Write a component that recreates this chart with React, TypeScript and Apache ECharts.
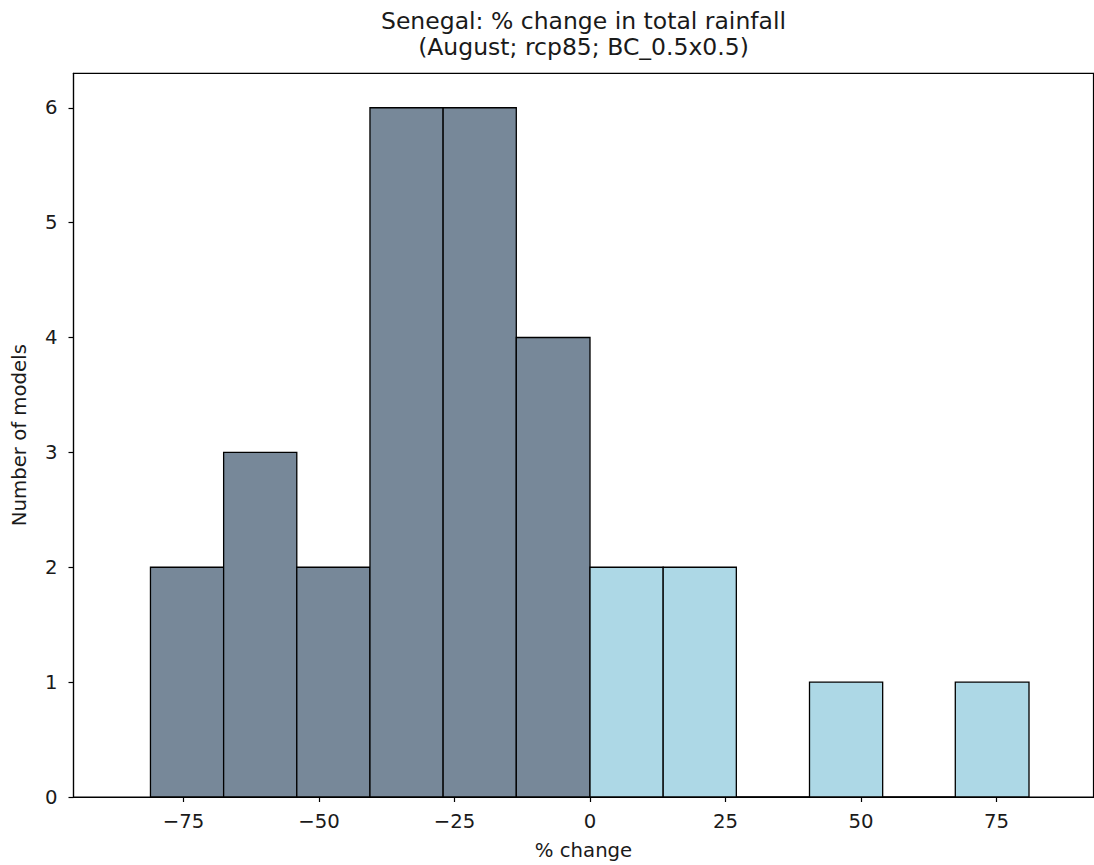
import React, { useEffect, useRef } from "react";
import * as echarts from "echarts";

const binEdges = [-81.1, -67.6, -54.1, -40.6, -27.1, -13.6, 0, 13.5, 27.0, 40.5, 54.0, 67.4, 81.0];
const counts = [2, 3, 2, 6, 6, 4, 2, 2, 0, 1, 0, 1];
const xTicks = [-75, -50, -25, 0, 25, 50, 75];
const yTicks = [0, 1, 2, 3, 4, 5, 6];
const titleLines = ["Senegal: % change in total rainfall", "(August; rcp85; BC_0.5x0.5)"];
const xLabel = "% change";
const yLabel = "Number of models";
const negColor = "#778899";
const posColor = "#ADD8E6";

const FONT = "DejaVu Sans";
const TEXT = "#1a1a1a";

export default function App() {
  const ref = useRef<HTMLDivElement>(null);
  useEffect(() => {
    document.body.style.margin = "0";
    const chart = echarts.init(ref.current!, null, { renderer: "svg" });
    const data = counts.map((c, i) => [binEdges[i], binEdges[i + 1], c]);
    chart.setOption({
      animation: false,
      backgroundColor: "#fff",
      textStyle: { fontFamily: FONT },
      grid: {
        left: 73.5,
        right: 0.5,
        top: 73.3,
        bottom: 67.7,
        show: true,
        borderColor: "#000",
        borderWidth: 1.2,
        backgroundColor: "transparent",
      },
      graphic: [
        {
          type: "text",
          x: 583.5,
          y: 8,
          style: {
            text: titleLines.join("\n"),
            textAlign: "center",
            fontFamily: FONT,
            fontSize: 23.5,
            lineHeight: 26,
            fill: TEXT,
          },
        },
      ],
      xAxis: {
        type: "value",
        min: -95.3,
        max: 92.9,
        name: xLabel,
        nameLocation: "middle",
        nameGap: 43,
        nameTextStyle: { fontFamily: FONT, fontSize: 19.7, color: TEXT },
        axisLine: { show: true, onZero: false, lineStyle: { color: "#000", width: 1.2 } },
        axisTick: { show: true, length: 5, customValues: xTicks, lineStyle: { color: "#000", width: 1.2 } },
        axisLabel: {
          customValues: xTicks,
          fontFamily: FONT,
          fontSize: 19.7,
          color: TEXT,
          margin: 14,
          formatter: (v: number) => String(v).replace("-", "\u2212"),
        },
        splitLine: { show: false },
      },
      yAxis: {
        type: "value",
        min: 0,
        max: 6.3,
        name: yLabel,
        nameLocation: "middle",
        nameGap: 44,
        nameTextStyle: { fontFamily: FONT, fontSize: 19.7, color: TEXT },
        axisLine: { show: true, onZero: false, lineStyle: { color: "#000", width: 1.2 } },
        axisTick: { show: true, length: 5, customValues: yTicks, lineStyle: { color: "#000", width: 1.2 } },
        axisLabel: {
          customValues: yTicks,
          fontFamily: FONT,
          fontSize: 19.7,
          color: TEXT,
          margin: 16,
        },
        splitLine: { show: false },
      },
      series: [
        {
          type: "custom",
          data,
          encode: { x: [0, 1], y: 2 },
          renderItem: (params: any, api: any) => {
            const x0 = api.value(0);
            const x1 = api.value(1);
            const h = api.value(2);
            const p0 = api.coord([x0, 0]);
            const p1 = api.coord([x1, h]);
            const mid = (x0 + x1) / 2;
            return {
              type: "rect",
              shape: { x: p0[0], y: p1[1], width: p1[0] - p0[0], height: p0[1] - p1[1] },
              style: { fill: mid < 0 ? negColor : posColor, stroke: "#000", lineWidth: 1.3 },
            };
          },
        },
      ],
    });
    return () => chart.dispose();
  }, []);
  return <div ref={ref} style={{ width: 1094, height: 865 }} />;
}
